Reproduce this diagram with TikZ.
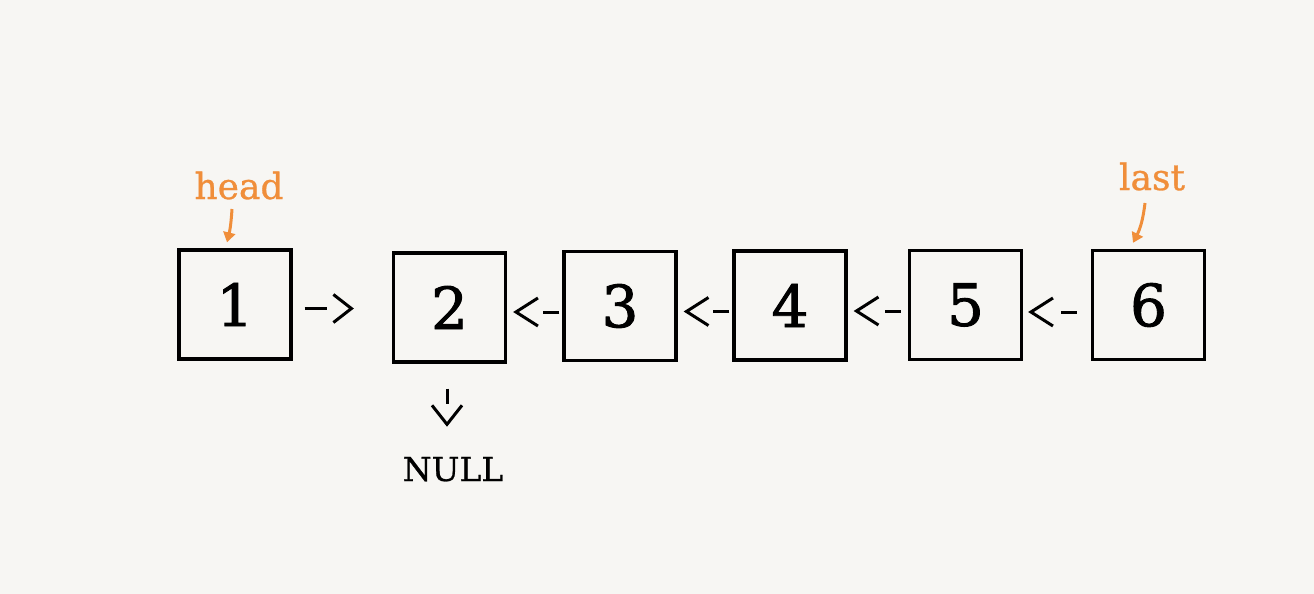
\documentclass[tikz,border=0pt]{standalone}
\usepackage{fontspec}
\setmainfont{DejaVu Serif}
\newfontfamily\digfont[FakeBold=1.6]{DejaVu Serif}
\newfontfamily\lblfont[FakeBold=0.8]{DejaVu Serif}
\usetikzlibrary{arrows.meta}
\definecolor{bg}{RGB}{247,246,243}
\definecolor{orng}{RGB}{240,142,58}
\begin{document}
\begin{tikzpicture}[x=1pt,y=-1pt,
  box/.style={draw,line width=3.3pt,minimum width=112pt,minimum height=109pt,inner sep=0pt,
              font=\digfont\fontsize{58}{58}\selectfont},
  link/.style={line width=3pt,dash pattern=on 16pt off 200pt,
               -{Straight Barb[length=22pt,width=28pt,line width=3pt]}},
  ptr/.style={orng,line width=3pt,-{Triangle[length=10pt,width=12pt]}},
  lbl/.style={orng,font=\lblfont\fontsize{36}{36}\selectfont,inner sep=0pt,anchor=base},
  nulltxt/.style={font=\lblfont\fontsize{33}{33}\selectfont,inner sep=0pt,anchor=base}]
\fill[bg] (0,0) rectangle (1314,594);
\useasboundingbox (0,0) rectangle (1314,594);

\node[box] (b1) at (235,304.5) {1};
\node[box] (b2) at (449.5,307.5) {2};
\node[box] (b3) at (620,306) {3};
\node[box] (b4) at (790,305.5) {4};
\node[box] (b5) at (965.5,305) {5};
\node[box] (b6) at (1148.5,305) {6};

\node[lbl] (head) at (239,199) {head};
\node[lbl] (last) at (1152,190) {last};
\node[nulltxt] (null) at (453,481) {NULL};

% forward link 1 -> 2
\draw[link,dash pattern=on 22pt off 200pt,
      -{Straight Barb[length=18pt,width=28pt,line width=3pt]},
      shorten <=12pt,shorten >=38pt]
  ([yshift=-4pt]b1.east) -- ([yshift=-4pt]b1.east -| b2.west);
% reversed links
\draw[link,shorten <=3pt,shorten >=6pt] ([yshift=-6pt]b3.west) -- ([yshift=-6pt]b3.west -| b2.east);
\draw[link,shorten <=3pt,shorten >=6pt] ([yshift=-6pt]b4.west) -- ([yshift=-6pt]b4.west -| b3.east);
\draw[link,shorten <=7pt,shorten >=6pt] ([yshift=-6pt]b5.west) -- ([yshift=-6pt]b5.west -| b4.east);
\draw[link,shorten <=14pt,shorten >=5pt] ([yshift=-7pt]b6.west) -- ([yshift=-7pt]b6.west -| b5.east);
% down to NULL
\draw[link,dash pattern=on 15pt off 200pt,
      -{Straight Barb[length=19pt,width=30pt,line width=3pt]},
      shorten <=25pt,shorten >=30pt]
  ([xshift=-2.5pt]b2.south) -- ([xshift=-2.5pt]b2.south |- null.north);

% pointers
\draw[ptr] ([shift={(-7,10)}]head.base) to[bend left=5] ([shift={(-8,-6)}]b1.north);
\draw[ptr] ([shift={(-7,13)}]last.base) to[bend left=10] ([shift={(-15.5,-6)}]b6.north);
\end{tikzpicture}
\end{document}
